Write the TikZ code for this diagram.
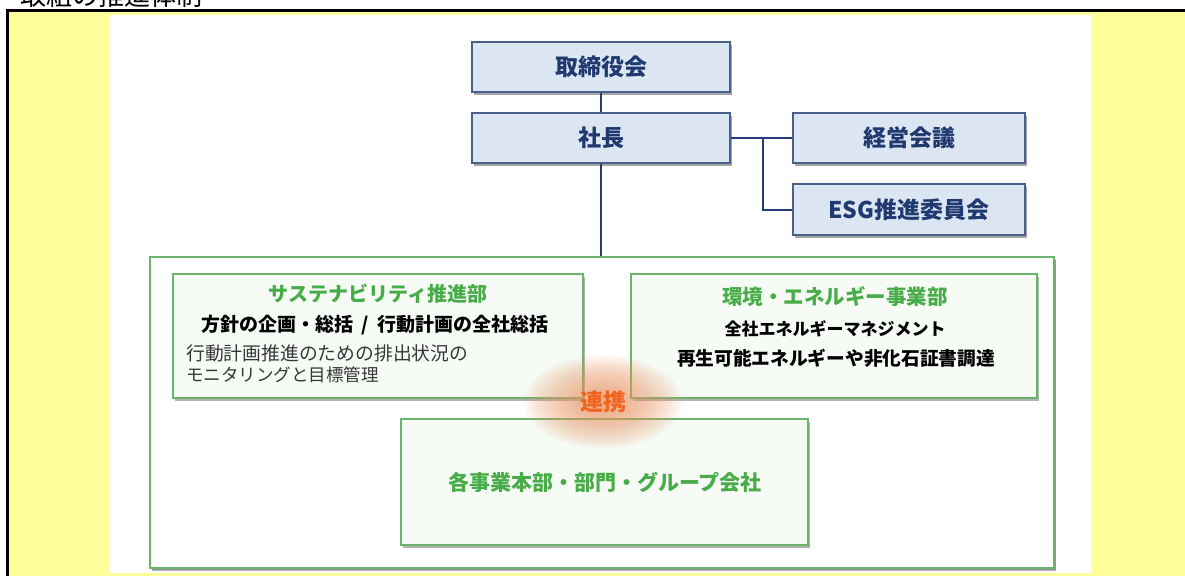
\documentclass[tikz,border=0pt]{standalone}
\usepackage{fontspec}
\newfontfamily\jp{Noto Sans CJK JP}
\usetikzlibrary{shadows}
\definecolor{yellowbg}{RGB}{255,255,153}
\definecolor{bluefill}{RGB}{220,230,243}
\definecolor{bluedraw}{RGB}{72,96,140}
\definecolor{bluetext}{RGB}{32,58,112}
\definecolor{linecol}{RGB}{38,60,122}
\definecolor{greendraw}{RGB}{108,180,108}
\definecolor{greenfill}{RGB}{246,251,246}
\definecolor{greentext}{RGB}{72,172,72}
\definecolor{orangetext}{RGB}{240,100,30}
\definecolor{glowcol}{RGB}{238,150,100}
\definecolor{graytext}{RGB}{55,55,55}
\newcommand\jfs[1]{\fontsize{#1}{#1}\selectfont}
\begin{document}
\begin{tikzpicture}[x=1pt,y=-1pt,
  bluebox/.style={draw=bluedraw,fill=bluefill,line width=1.6pt,text=bluetext,
    font=\jp\bfseries\jfs{23},inner sep=0pt,
    drop shadow={shadow xshift=2pt,shadow yshift=-2.5pt,opacity=0.35,fill=black}},
  greenbox/.style={draw=greendraw,fill=greenfill,line width=1.6pt,inner sep=0pt,
    drop shadow={shadow xshift=2pt,shadow yshift=-2.5pt,opacity=0.3,fill=black}},
  link/.style={draw=linecol,line width=2pt},
  txt/.style={inner sep=0pt}]
\useasboundingbox (0,0) rectangle (1185,576);
\clip (0,0) rectangle (1185,576);
\fill[white] (0,0) rectangle (1185,576);
\node[txt,anchor=base west,font=\jp\jfs{26}] (title) at (20,5) {取組の推進体制};
\fill[yellowbg] (9,12) rectangle (1185,576);
\draw[black,line width=3pt] (7.5,576) -- (7.5,10.5) -- (1185,10.5);
\fill[white] (109,15) rectangle (1091,573);

% outer green frame
\node[greenbox,fill=white,line width=2.4pt,minimum width=904pt,minimum height=311pt,
  drop shadow={shadow xshift=1.5pt,shadow yshift=-1.5pt,opacity=0.15,fill=black}] (outer) at (602,412.5) {};

% blue boxes
\node[bluebox,minimum width=258pt,minimum height=50pt] (board) at (601,67) {取締役会};
\node[bluebox,minimum width=258pt,minimum height=50pt] (pres) at (601,138) {社長};
\node[bluebox,minimum width=232pt,minimum height=50pt] (keiei) at (909,138) {経営会議};
\node[bluebox,minimum width=232pt,minimum height=51pt] (esg) at (909,209.5) {ESG推進委員会};

% connectors
\coordinate (br) at (763,138);
\draw[link] (board.south) -- (pres.north);
\draw[link] (pres.south) -- (pres.south |- outer.north);
\draw[link] (pres.east) -- (keiei.west);
\draw[link] (br) |- (esg.west);

% green boxes
\node[greenbox,minimum width=410pt,minimum height=124pt] (sust) at (378,336) {};
\node[greenbox,minimum width=406pt,minimum height=124pt] (env) at (834,336) {};
\node[greenbox,minimum width=407pt,minimum height=126pt] (group) at (604.5,482) {};

% glow
\foreach \i in {1,...,24}{
  \fill[glowcol,opacity=0.055] (603,402) ellipse [x radius={3.3*\i}, y radius={1.95*\i}];
}

% texts
\node[txt,text=greentext,font=\jp\bfseries\jfs{20}] (sustT) at (378,294) {サステナビリティ推進部};
\node[txt,text=black,font=\jp\bfseries\jfs{19}] (sust1) at (375,325) {方針の企画・総括\hspace{0.45em}/\hspace{0.45em}行動計画の全社総括};
\node[txt,text=graytext,font=\jp\jfs{18.8},anchor=west] (sust2) at (186,353) {行動計画推進のための排出状況の};
\node[txt,text=graytext,font=\jp\jfs{17.5},anchor=west] (sust3) at (186,375) {モニタリングと目標管理};

\node[txt,text=greentext,font=\jp\bfseries\jfs{20.5}] (envT) at (835,297) {環境・エネルギー事業部};
\node[txt,text=black,font=\jp\bfseries\jfs{17}] (env1) at (835,329) {全社エネルギーマネジメント};
\node[txt,text=black,font=\jp\bfseries\jfs{18.7}] (env2) at (836,358) {再生可能エネルギーや非化石証書調達};

\node[txt,text=greentext,font=\jp\bfseries\jfs{21}] (groupT) at (605,482) {各事業本部・部門・グループ会社};
\node[txt,text=orangetext,font=\jp\bfseries\jfs{23}] (renkei) at (603,402) {連携};
\end{tikzpicture}
\end{document}
